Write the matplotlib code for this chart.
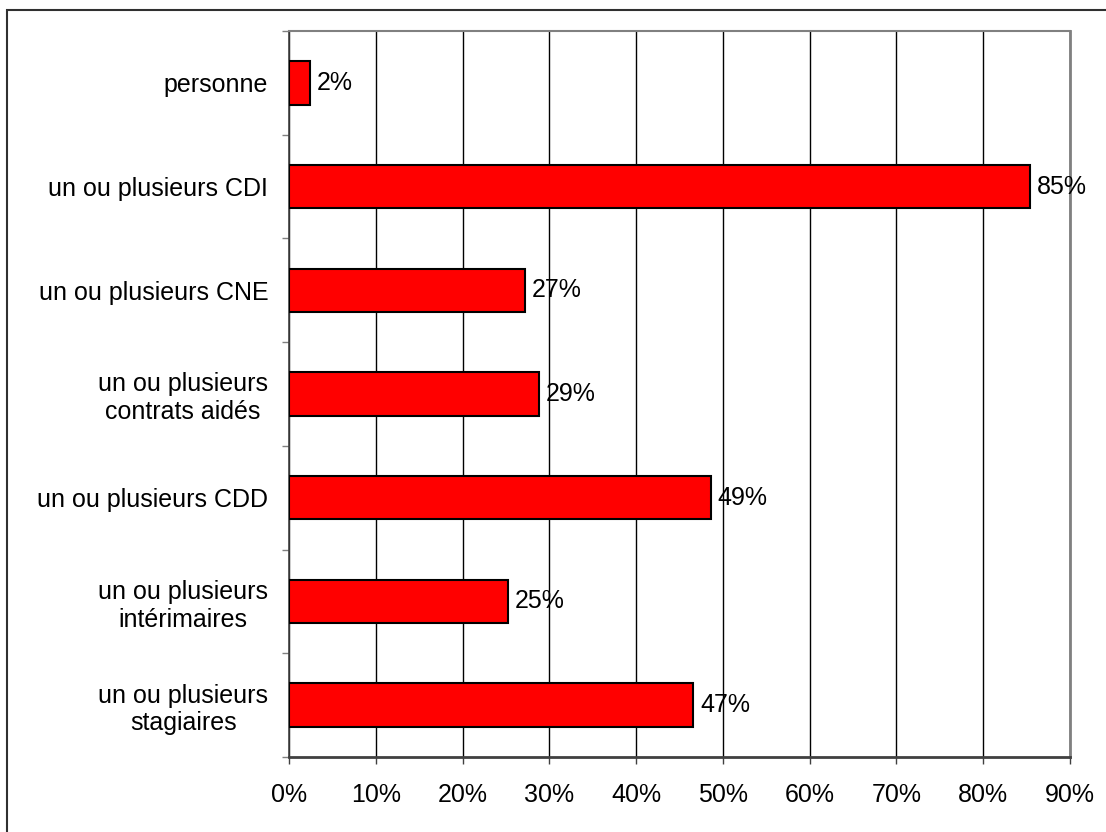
import numpy as np
import matplotlib.pyplot as plt
from matplotlib.patches import Rectangle
from matplotlib.ticker import FixedLocator

plt.rcParams['font.family'] = ['Liberation Sans', 'DejaVu Sans']

# catégories, de haut en bas
categories = [
    "personne",
    "un ou plusieurs CDI",
    "un ou plusieurs CNE",
    "un ou plusieurs\ncontrats aidés",
    "un ou plusieurs CDD",
    "un ou plusieurs\nintérimaires",
    "un ou plusieurs\nstagiaires",
]
values = [2.4, 85.4, 27.2, 28.8, 48.6, 25.2, 46.6]
xticks = [0, 10, 20, 30, 40, 50, 60, 70, 80, 90]

W, H = 1106, 832
fig = plt.figure(figsize=(W / 100, H / 100), dpi=100)
ax = fig.add_axes([289 / W, 1 - 757 / H, (1070 - 289) / W, (757 - 31) / H])

y = np.arange(len(categories))
ax.barh(y, values, height=0.42, color="#ff0000", edgecolor="black",
        linewidth=1.5, zorder=3)

for yi, v in zip(y, values):
    ax.annotate(f"{v:.0f}%", (v, yi), xytext=(5, 0), textcoords="offset points",
                ha="left", va="center", fontsize=18, zorder=4)

ax.set_xlim(0, 90)
ax.set_ylim(len(categories) - 0.5, -0.5)

ax.set_xticks(xticks)
ax.set_xticklabels([f"{t}%" for t in xticks], fontsize=18)
ax.xaxis.grid(True, color="black", linewidth=1.0, zorder=0)
ax.tick_params(axis="x", direction="out", length=5, width=1, color="#404040", pad=14)

ax.set_yticks(y)
ax.set_yticklabels(categories, fontsize=18)
for lbl in ax.get_yticklabels():
    lbl.set_multialignment("center")
ax.tick_params(axis="y", which="major", length=0, pad=15)
ax.yaxis.set_minor_locator(FixedLocator(np.arange(-0.5, len(categories), 1.0)))
ax.tick_params(axis="y", which="minor", direction="out", length=5, width=1, color="#808080")

ax.spines["left"].set_color("#404040")
ax.spines["left"].set_linewidth(1.2)
ax.spines["bottom"].set_color("#404040")
ax.spines["bottom"].set_linewidth(2)
ax.spines["top"].set_color("#808080")
ax.spines["top"].set_linewidth(1.5)
ax.spines["right"].set_color("#808080")
ax.spines["right"].set_linewidth(2)

# cadre extérieur (coupé à droite et en bas)
fig.patches.append(Rectangle((7 / W, -0.5), 2, 1.5 - 10 / H, transform=fig.transFigure,
                             fill=False, edgecolor="#303030", linewidth=1.5))

fig.savefig("out.png", dpi=100)
